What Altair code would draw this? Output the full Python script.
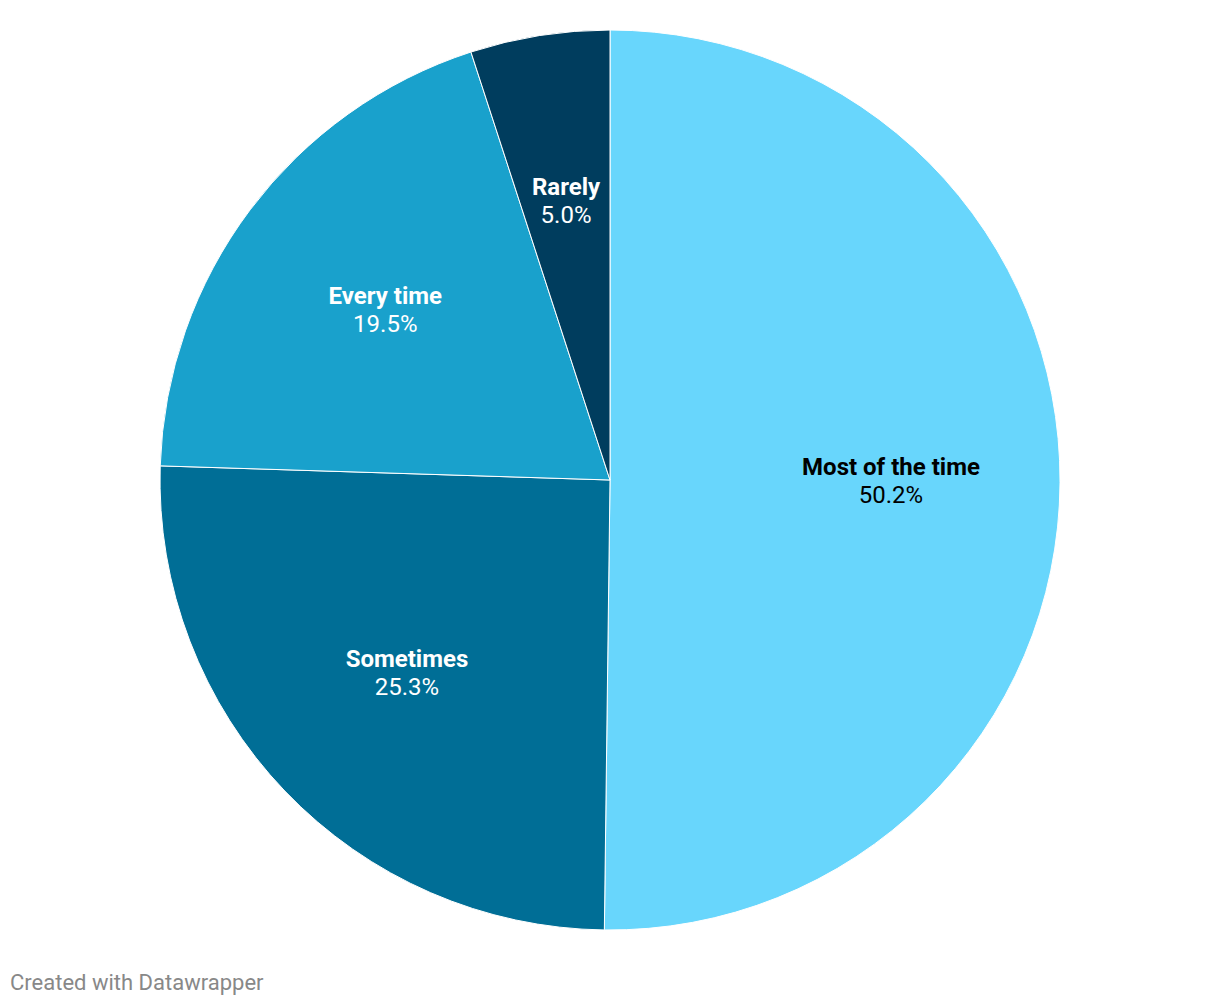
import altair as alt
import pandas as pd

categories = ["Most of the time", "Sometimes", "Every time", "Rarely"]
values = [50.2, 25.3, 19.5, 5.0]
value_labels = ["50.2%", "25.3%", "19.5%", "5.0%"]
palette = ["#68d6fc", "#006e96", "#19a1cc", "#003d5e"]

df = pd.DataFrame({
    "category": categories,
    "value": values,
    "label": value_labels,
    "idx": list(range(len(categories))),
})

CX, CY, R, RL = 602, 472, 450, 281

base = alt.Chart(df).encode(
    theta=alt.Theta("value:Q", stack=True),
    order=alt.Order("idx:Q", sort="ascending"),
    x=alt.value(CX),
    y=alt.value(CY),
)

arcs = base.mark_arc(radius=R, stroke="white", strokeWidth=1).encode(
    color=alt.Color("category:N", scale=alt.Scale(domain=categories, range=palette), legend=None)
)

text_color = alt.condition(alt.datum.category == "Most of the time", alt.value("#000000"), alt.value("#ffffff"))

names = base.mark_text(radius=RL, dy=-14, font="Roboto", fontSize=24, fontWeight="bold").encode(
    text="category:N", color=text_color
)
vals = base.mark_text(radius=RL, dy=14, font="Roboto", fontSize=24).encode(
    text="label:N", color=text_color
)

footer = alt.Chart(pd.DataFrame({"t": ["Created with Datawrapper"]})).mark_text(
    align="left", baseline="alphabetic", font="Roboto", fontSize=22, color="#888888"
).encode(text="t:N", x=alt.value(2), y=alt.value(982))

chart = alt.layer(arcs, names, vals, footer).properties(
    width=1204, height=990, padding=0
).configure_view(stroke=None)

chart.save("out.html", embed_options={"renderer": "svg", "actions": False})
